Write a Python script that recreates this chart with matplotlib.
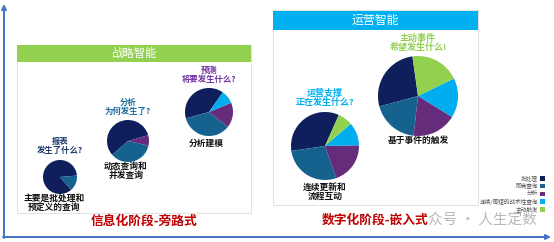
import matplotlib
matplotlib.use("Agg")
import matplotlib.pyplot as plt
from matplotlib.patches import Rectangle

plt.rcParams['font.family'] = ['Noto Sans CJK SC', 'DejaVu Sans']

W, H = 554, 242

# categories and colours (legend order, also counter-clockwise order in each pie)
categories = ['批处理', '即席查询', '分析', '连续/简短的战术性查询', '主动触发']
colors = ['#0E1F5B', '#15628F', '#652C7C', '#00AEEF', '#92D050']

# slice shares for the five stages (same order as categories)
pie1_values = [85, 15, 0, 0, 0]
pie2_values = [57, 35, 8, 0, 0]
pie3_values = [39, 35, 17, 9, 0]
pie4_values = [34, 28, 20, 11, 7]
pie5_values = [27, 19, 18, 16, 20]

titles = ['报表\n发生了什么?', '分析\n为何发生了?', '预测\n将要发生什么?',
          '运营支撑\n正在发生什么?', '主动事件\n希望发生什么!']
title_colors = ['#1F3A6E', '#1F6FA0', '#7030A0', '#00B0F0', '#92D050']
captions = ['主要是批处理和\n预定义的查询', '动态查询和\n并发查询', '分析建模',
            '连续更新和\n流程互动', '基于事件的触发']

fig = plt.figure(figsize=(W / 100, H / 100), dpi=100)
ax = fig.add_axes([0, 0, 1, 1])


def Y(py):
    return H - py


# panels
ax.add_patch(Rectangle((17, Y(213)), 234, 168, facecolor='white',
                       edgecolor='#E3E3E3', lw=0.8, zorder=2))
ax.add_patch(Rectangle((17, Y(62)), 234, 17, facecolor='#92D050',
                       edgecolor='none', zorder=3))
ax.text(134, Y(53.5), '战略智能', color='white', fontsize=8.2,
        ha='center', va='center', zorder=4)

ax.add_patch(Rectangle((273, Y(205)), 205, 195, facecolor='white',
                       edgecolor='#E3E3E3', lw=0.8, zorder=2))
ax.add_patch(Rectangle((273, Y(30)), 205, 19, facecolor='#00B0F0',
                       edgecolor='none', zorder=3))
ax.text(375, Y(20.5), '运营智能', color='white', fontsize=8.6,
        ha='center', va='center', zorder=4)

# pies
all_values = [pie1_values, pie2_values, pie3_values, pie4_values, pie5_values]
centers = [(60, 177), (128, 141), (209, 112), (325, 146), (418, 96)]
radii = [17, 21, 24, 34, 40]
starts = [5, 16, 55, 66, 98]
title_y = [146, 107, 75, 98, 43]
title_fs = [6.0, 6.0, 6.0, 6.5, 6.5]
cap_y = [202.5, 171, 143.5, 191.5, 140.5]
cap_x = [54, 126, 206, 325, 418]

for vals, (cx, cy), r, st, t, tc, ty, tfs, cap, capy, capx in zip(
        all_values, centers, radii, starts, titles, title_colors,
        title_y, title_fs, captions, cap_y, cap_x):
    ax.pie(vals, colors=colors, radius=r, center=(cx, Y(cy)), startangle=st,
           counterclock=True, frame=True,
           wedgeprops=dict(linewidth=0, zorder=5))
    ax.text(cx, Y(ty), t, color=tc, fontsize=tfs, fontweight='bold',
            ha='center', va='center', linespacing=1.0, zorder=6)
    ax.text(capx, Y(capy), cap, color='#111111', fontsize=6.3,
            fontweight='bold', ha='center', va='center',
            linespacing=1.0, zorder=6)

ax.set_xlim(0, W)
ax.set_ylim(0, H)
ax.set_aspect('auto')
ax.axis('off')

# legend (partly hidden behind the right panel)
for i, (lab, c) in enumerate(zip(categories, colors)):
    ly = Y(178 + i * 7.8)
    ax.add_patch(Rectangle((540, ly - 2.5), 4.5, 4.5, facecolor=c,
                           edgecolor='none', zorder=1))
    ax.text(538, ly, lab, fontsize=4.1, color='#555555', ha='right',
            va='center', zorder=1)

# stage labels and watermark
ax.text(537, Y(221), '众号 · 人生定数', fontsize=10.5, color='#B8B8B8',
        ha='right', va='center', zorder=6)
ax.text(144, Y(221), '信息化阶段-旁路式', fontsize=9.2, color='#C00000',
        fontweight='bold', ha='center', va='center', zorder=7)
ax.text(375, Y(220), '数字化阶段-嵌入式', fontsize=9.2, color='#C00000',
        fontweight='bold', ha='center', va='center', zorder=7)

# axis arrows
ax.annotate('', xy=(4, Y(4)), xytext=(4, Y(238)),
            arrowprops=dict(arrowstyle='-|>', color='#4472C4', lw=1.4,
                            mutation_scale=7, shrinkA=0, shrinkB=0))
ax.annotate('', xy=(551, Y(237)), xytext=(3, Y(237)),
            arrowprops=dict(arrowstyle='-|>', color='#4472C4', lw=1.4,
                            mutation_scale=7, shrinkA=0, shrinkB=0))

fig.savefig('out.png', dpi=100)
